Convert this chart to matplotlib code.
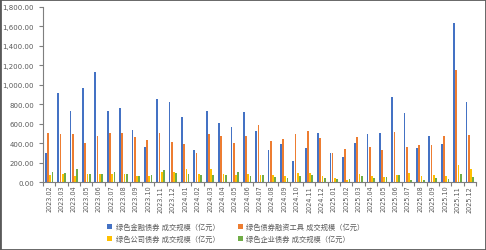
import numpy as np
import matplotlib
matplotlib.use('Agg')
import matplotlib.pyplot as plt
import matplotlib.ticker as mticker
from matplotlib.patches import Rectangle

plt.rcParams['font.family'] = ['DejaVu Sans', 'Noto Sans CJK SC']

months = ['2023.02', '2023.03', '2023.04', '2023.05', '2023.06', '2023.07', '2023.08',
          '2023.09', '2023.10', '2023.11', '2023.12', '2024.01', '2024.02', '2024.03',
          '2024.04', '2024.05', '2024.06', '2024.07', '2024.08', '2024.09', '2024.10',
          '2024.11', '2024.12', '2025.01', '2025.02', '2025.03', '2025.04', '2025.05',
          '2025.06', '2025.07', '2025.08', '2025.09', '2025.10', '2025.11', '2025.12']

fin_bond = [296, 912, 726, 967, 1129, 726, 760, 533, 361, 850, 826, 664, 330, 726,
            609, 561, 716, 523, 330, 389, 220, 348, 499, 296, 255, 399, 489, 509,
            877, 705, 348, 478, 389, 1634, 819]
debt_inst = [499, 492, 492, 406, 478, 499, 506, 468, 437, 499, 413, 389, 303, 495,
             471, 399, 471, 582, 420, 440, 489, 520, 454, 303, 344, 468, 361, 334,
             513, 361, 378, 385, 471, 1153, 482]
corp_bond = [69, 79, 62, 86, 79, 79, 79, 62, 62, 103, 100, 134, 79, 131,
             86, 69, 83, 76, 69, 62, 89, 89, 65, 45, 21, 83, 58, 55,
             76, 89, 65, 72, 58, 172, 131]
ent_bond = [100, 96, 131, 79, 86, 100, 79, 58, 76, 120, 96, 79, 69, 69,
            69, 100, 62, 69, 55, 41, 58, 69, 38, 28, 34, 65, 41, 55,
            69, 24, 24, 41, 31, 79, 55]

series = [
    ('绿色金融债券 成交规模（亿元）', fin_bond, '#4472C4'),
    ('绿色债券融资工具 成交规模（亿元）', debt_inst, '#ED7D31'),
    ('绿色公司债券 成交规模（亿元）', corp_bond, '#FFC000'),
    ('绿色企业债券 成交规模（亿元）', ent_bond, '#70AD47'),
]

fig = plt.figure(figsize=(4.86, 2.51), dpi=100)
ax = fig.add_axes([43 / 486, 1 - 183 / 251, (476 - 43) / 486, (183 - 8) / 251])

x = np.arange(len(months))
offsets = [-0.27, -0.09, 0.09, 0.27]
handles = []
for (name, vals, color), off in zip(series, offsets):
    h = ax.bar(x + off, vals, width=0.14, color=color, label=name, linewidth=0)
    handles.append(h)

ax.set_xlim(-0.5, len(months) - 0.5)
ax.set_ylim(0, 1800)
ax.yaxis.set_major_locator(mticker.MultipleLocator(200))
ax.yaxis.set_major_formatter(mticker.FuncFormatter(lambda v, _: f'{v:,.2f}'))

ax.set_xticks(x)
ax.set_xticklabels(months, rotation=90, fontsize=4.7, color='#595959')
ax.set_xticks(np.arange(-0.5, len(months)), minor=True)
ax.tick_params(axis='x', which='major', length=0, pad=2)
ax.tick_params(axis='x', which='minor', length=3, color='#7f7f7f', width=0.8)
ax.tick_params(axis='y', labelsize=5, colors='#595959', length=3, width=0.8)
ax.tick_params(axis='y', color='#7f7f7f')

for s in ['top', 'right']:
    ax.spines[s].set_visible(False)
for s in ['left', 'bottom']:
    ax.spines[s].set_color('#7f7f7f')
    ax.spines[s].set_linewidth(0.8)

order = [handles[0], handles[2], handles[1], handles[3]]
fig.legend(order, [h.get_label() for h in order], ncol=2, loc='center',
           bbox_to_anchor=(236 / 486, 1 - 233 / 251), frameon=False,
           fontsize=5.2, labelcolor='#595959', handlelength=0.7, handleheight=0.7,
           handletextpad=0.5, columnspacing=2.5, labelspacing=0.6)

fig.patches.append(Rectangle((0, 0), 1, 1, transform=fig.transFigure, fill=False,
                             edgecolor='#595959', linewidth=2))

fig.savefig('out.png', dpi=100)
